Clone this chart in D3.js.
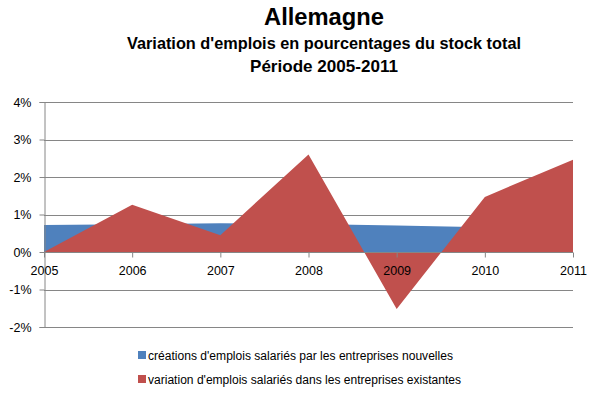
<!DOCTYPE html>
<html>
<head>
<meta charset="utf-8">
<script src="https://cdn.jsdelivr.net/npm/d3@7"></script>
<style>
  body { margin: 0; background: #fff; }
  text { font-family: "Liberation Sans", Arial, sans-serif; fill: #000; }
</style>
</head>
<body>
<div id="chart"></div>
<script>
// data (percent of total stock)
const years = [2005, 2006, 2007, 2008, 2009, 2010, 2011];
const creations = [0.72, 0.74, 0.77, 0.75, 0.71, 0.66, 0.6];
const variation = [0, 1.26, 0.45, 2.6, -1.52, 1.47, 2.46];
const yTicks = [-2, -1, 0, 1, 2, 3, 4];
const seriesNames = [
  "créations d'emplois salariés par les entreprises nouvelles",
  "variation d'emplois salariés dans les entreprises existantes"
];
const colors = ["#4F81BD", "#C0504D"];

const W = 599, H = 393;
const plot = { left: 44, right: 573, top: 102, bottom: 327 };

const svg = d3.select("#chart").append("svg")
  .attr("width", W).attr("height", H);

// titles
const titles = [
  { t: "Allemagne", y: 25, size: 24, w: 120 },
  { t: "Variation d'emplois en pourcentages du stock total", y: 49, size: 16.5, w: 394 },
  { t: "Période 2005-2011", y: 72, size: 16.5, w: 148 }
];
svg.selectAll("text.title").data(titles).join("text")
  .attr("class", "title")
  .attr("x", 324)
  .attr("y", d => d.y)
  .attr("text-anchor", "middle")
  .attr("font-weight", "bold")
  .attr("font-size", d => d.size)
  .attr("textLength", d => d.w)
  .attr("lengthAdjust", "spacingAndGlyphs")
  .text(d => d.t);

const x = d3.scalePoint().domain(years).range([plot.left, plot.right]);
const y = d3.scaleLinear().domain([-2, 4]).range([plot.bottom, plot.top]);

// gridlines
svg.append("g").selectAll("line").data(yTicks.filter(v => v !== 0)).join("line")
  .attr("x1", plot.left).attr("x2", plot.right)
  .attr("y1", d => Math.round(y(d)) + 0.5).attr("y2", d => Math.round(y(d)) + 0.5)
  .attr("stroke", "#868686").attr("stroke-width", 1);

// areas (blue first, red on top)
const area = d3.area()
  .x((d, i) => x(years[i]))
  .y0(y(0))
  .y1(d => y(d));

[creations, variation].forEach((s, k) => {
  svg.append("path").datum(s)
    .attr("d", area)
    .attr("fill", colors[k]);
});

// y axis
const yAxis = svg.append("g")
  .attr("transform", `translate(${plot.left + 0.5},0)`)
  .call(d3.axisLeft(y).tickValues(yTicks).tickSize(5).tickPadding(8)
    .tickFormat(d => d + "%"));
yAxis.select(".domain").attr("stroke", "#868686");
yAxis.selectAll(".tick line").attr("stroke", "#868686");
yAxis.selectAll(".tick text")
  .attr("font-size", 12.5)
  .attr("font-family", "Liberation Sans, Arial, sans-serif");

// x axis at zero
const xAxis = svg.append("g")
  .attr("transform", `translate(0,${Math.round(y(0)) + 0.5})`)
  .call(d3.axisBottom(x).tickSize(5).tickPadding(9));
xAxis.select(".domain").attr("stroke", "#868686").attr("d",
  `M${plot.left},0H${plot.right}`);
xAxis.selectAll(".tick line").attr("stroke", "#868686");
xAxis.selectAll(".tick text")
  .attr("font-size", 12.5)
  .attr("font-family", "Liberation Sans, Arial, sans-serif");

// legend
const leg = svg.append("g").selectAll("g").data(seriesNames).join("g")
  .attr("transform", (d, i) => `translate(138,${355 + i * 24})`);
leg.append("rect")
  .attr("x", 0).attr("y", -4).attr("width", 8).attr("height", 8)
  .attr("fill", (d, i) => colors[i]);
leg.append("text")
  .attr("x", 10).attr("y", 4.5)
  .attr("font-size", 12.5)
  .attr("textLength", (d, i) => i === 0 ? 305 : 313)
  .attr("lengthAdjust", "spacingAndGlyphs")
  .text(d => d);
</script>
</body>
</html>
